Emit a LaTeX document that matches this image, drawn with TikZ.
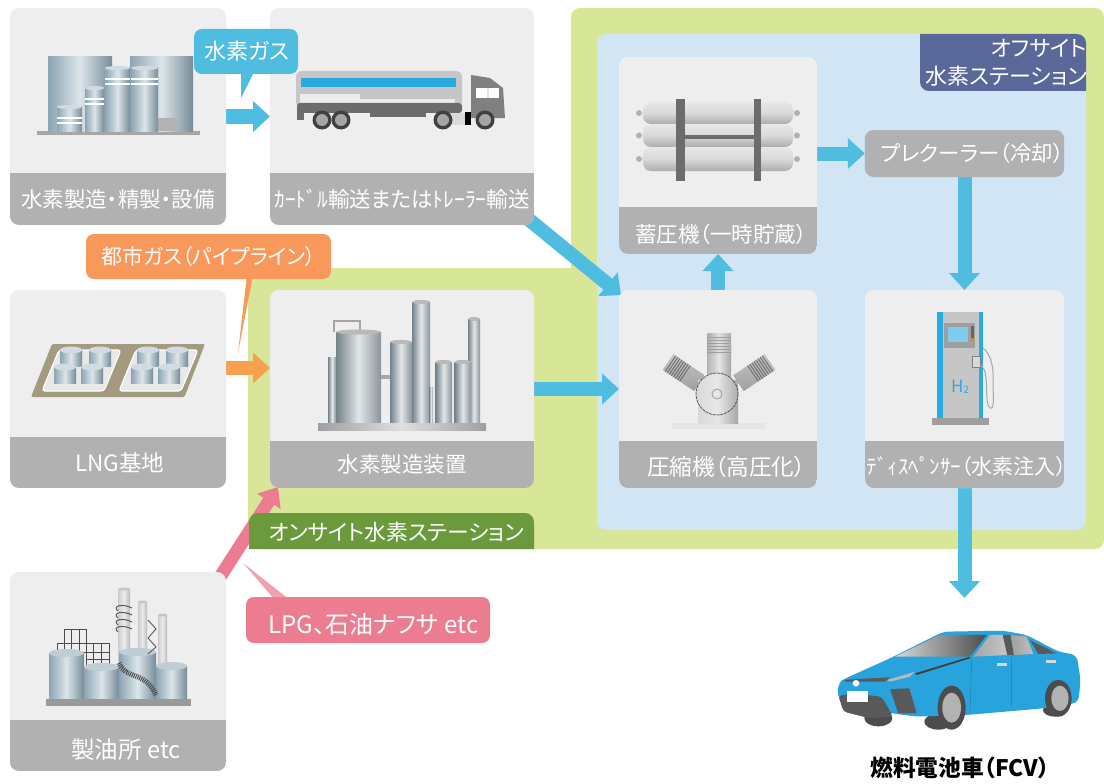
\documentclass[tikz,border=0pt]{standalone}
\usepackage{fontspec}
\setmainfont{Noto Sans CJK JP}[RawFeature=+palt]
\usetikzlibrary{arrows.meta,shapes.geometric}
\definecolor{cardbg}{HTML}{EEEEEE}
\definecolor{bandc}{HTML}{B2B1B2}
\definecolor{arrblue}{HTML}{4FBDE0}
\definecolor{arrorange}{HTML}{F8A04E}
\definecolor{calorange}{HTML}{F8985A}
\definecolor{arrpink}{HTML}{EC7C90}
\definecolor{tailpink}{HTML}{F2A0AE}
\definecolor{ongreen}{HTML}{D8E698}
\definecolor{panelblue}{HTML}{D2E5F4}
\definecolor{darkgreen}{HTML}{6A9A3C}
\definecolor{offblue}{HTML}{5A6899}
\definecolor{stripe}{HTML}{29ABE2}
\definecolor{carblue}{HTML}{29A3DC}
\definecolor{steelD}{HTML}{8BA5B4}
\definecolor{steelL}{HTML}{DCE5E9}
\definecolor{grayD}{HTML}{74828A}
\definecolor{grayL}{HTML}{E2E6E8}
\definecolor{lngbrown}{HTML}{A39A80}
\pgfdeclarelayer{backpanel}
\pgfdeclarelayer{conn}
\pgfsetlayers{backpanel,conn,main}
\tikzset{
 cardstyle/.style={fill=cardbg,rounded corners=9pt,inner sep=0pt,outer sep=0pt},
 lbl/.style={text=white,font=\fontsize{21.5}{26}\selectfont,inner sep=0pt},
 callout/.style={rounded corners=8pt,inner sep=0pt,outer sep=0pt,text=white,font=\fontsize{22}{26}\selectfont},
 flow/.style={line width=14pt,-{Triangle[width=30pt,length=17pt]}},
 steel/.style={left color=steelD,right color=steelD!85!black,middle color=steelL},
 metal/.style={left color=grayD,right color=grayD!85,middle color=grayL},
}
\newcommand{\cardbox}[8][]{%
 \pgfmathsetlengthmacro\cw{#5-#3}\pgfmathsetlengthmacro\ch{#6-#4}%
 \node[cardstyle,minimum width=\cw,minimum height=\ch] (#2) at ({(#3+#5)/2},{(#4+#6)/2}) {};
 \begin{scope}
  \clip[rounded corners=9pt] (#3,#4) rectangle (#5,#6);
  \fill[bandc] (#3,#7) rectangle (#5,#6);
 \end{scope}
 \node[lbl,#1] (#2-label) at ({(#3+#5)/2},{(#7+#6)/2}) {#8};
}
\begin{document}
\begin{tikzpicture}[x=1pt,y=-1pt]
\useasboundingbox (0,0) rectangle (1104,784);
\begin{pgfonlayer}{backpanel}
 \fill[white] (0,0) rectangle (1104,784);
 \fill[ongreen,rounded corners=9pt] (248,549) -- (248,268) [sharp corners] -- (571,268) [rounded corners=9pt] -- (571,8) -- (1104,8) -- (1104,549) -- cycle;
 \fill[panelblue,rounded corners=9pt] (597,34) rectangle (1086,530);
\end{pgfonlayer}

% ---- cards
\cardbox{prod}{10}{8}{226}{225}{173}{水素製造・精製・設備}
\cardbox{truck}{270}{8}{534}{225}{173}{ｶｰﾄﾞﾙ輸送またはﾄﾚｰﾗｰ輸送}
\cardbox[xshift=2pt,font=\fontsize{22.5}{26}\selectfont]{lng}{10}{290}{226}{488}{437}{LNG基地}
\cardbox{gen}{270}{290}{534}{488}{441}{水素製造装置}
\cardbox[xshift=3pt,yshift=-4pt]{accu}{619}{57}{817}{254}{207}{蓄圧機（一時貯蔵）}
\cardbox[xshift=8.5pt,yshift=-2pt,font=\fontsize{22.7}{26}\selectfont]{comp}{619}{290}{817}{488}{441}{圧縮機（高圧化）}
\cardbox[xshift=2pt,yshift=-2pt,font=\fontsize{21}{26}\selectfont]{disp}{865}{290}{1064}{488}{441}{ﾃﾞｨｽﾍﾟﾝｻｰ（水素注入）}
\cardbox[xshift=8pt,yshift=-4pt,font=\fontsize{23.5}{26}\selectfont]{refi}{10}{572}{226}{771}{720}{製油所 etc}
\node[fill=bandc,rounded corners=9pt,inner sep=0pt,outer sep=0pt,minimum width=199pt,minimum height=47pt,text=white,font=\fontsize{21.5}{26}\selectfont] (pre) at (964.5,153.5) {\hspace*{16pt}プレクーラー（冷却）};

% ---- station labels
\fill[offblue,rounded corners=9pt] (920,34) [sharp corners] -- (920,70) [rounded corners=9pt] -- (920,91) [sharp corners] -- (1086,91) -- (1086,50) [rounded corners=9pt] -- (1086,34) [sharp corners] -- cycle;
\node[text=white,font=\fontsize{22}{28}\selectfont,align=right,anchor=east,inner sep=0pt] (offlabel) at (1087,63) {オフサイト\\水素ステーション};
\fill[darkgreen,rounded corners=9pt] (249,549) [sharp corners] -- (249,530) [rounded corners=9pt] -- (249,513) -- (534,513) [sharp corners] -- (534,549) -- cycle;
\node[text=white,font=\fontsize{21.8}{26}\selectfont,inner sep=0pt] (onlabel) at (396.5,532) {オンサイト水素ステーション};

% ---- callouts
\coordinate (tipgas) at (241,98);
\coordinate (tipcity) at (238,353);
\coordinate (tiplpg) at (243,563);
\fill[arrblue] (241,70) -- (255,70) -- (tipgas) -- cycle;
\fill[calorange] (247,275) -- (253,275) -- (tipcity) -- cycle;
\fill[tailpink] (275,600) -- (290,600) -- (tiplpg) -- cycle;
\node[callout,fill=arrblue,minimum width=104pt,minimum height=45pt] (cgas) at (246,51.5) {\hspace*{2pt}水素ガス};
\node[callout,fill=calorange,minimum width=245pt,minimum height=45pt,font=\fontsize{21}{26}\selectfont] (ccity) at (208.5,256.5) {都市ガス（パイプライン）};
\node[callout,fill=arrpink,minimum width=244pt,minimum height=46pt] (clpg) at (368,620) {};
\node[text=white,inner sep=0pt,font=\fontsize{24}{26}\selectfont] (clpg-text) at (373.5,624) {LPG、石油ナフサ etc};

% ---- connectors
\begin{pgfonlayer}{conn}
 \draw[flow,arrblue] (prod.east) -- (truck.west);
 \draw[flow,arrblue] ([xshift=-7pt,yshift=7pt]truck.south east) -- ([xshift=2pt,yshift=-5pt]comp.north west);
 \draw[flow,arrorange] ([yshift=21pt]lng.east) -- ([yshift=21pt]gen.west);
 \draw[flow,arrpink,line width=13pt,-{Triangle[width=27pt,length=17pt]}] ([xshift=-6pt,yshift=-5pt]refi.north east) -- ([xshift=8pt,yshift=1pt]gen.south west);
 \draw[flow,arrblue] (gen.east) -- (comp.west);
 \draw[flow,arrblue] (comp.north) -- (accu.south);
 \draw[flow,arrblue] (accu.east |- pre.west) -- (pre.west);
 \draw[flow,arrblue] (pre.south) -- (disp.north);
 \coordinate (carin) at (964.5,598);
 \draw[flow,arrblue] (disp.south) -- (carin);
\end{pgfonlayer}

% ---- storage tanks
\fill[gray!70] (37,131) rectangle (200,135);
\shade[steel] (48,57) rectangle (112,131);
\shade[steel] (130,57) rectangle (193,131);
\fill[gray!60] (158,118) rectangle (178,131);
\foreach \a/\b/\t in {57/82/107,85/104/88,105/130/68,131/158/68}{
 \shade[steel] (\a,\t) rectangle (\b,131);
 \fill[white!60!steelD] ({(\a+\b)/2},\t) ellipse ({(\b-\a)/2} and 2);
 \fill[white] (\a,\t+10) rectangle (\b,\t+12);
 \fill[white] (\a,\t+15) rectangle (\b,\t+17);
}

% ---- truck
\fill[gray!45,rounded corners=6pt] (296,71) rectangle (462,108);
\fill[stripe] (301,78) rectangle (456,87);
\fill[gray!15] (300,94) rectangle (360,103);
\fill[gray!15] (360,99) rectangle (455,103);
\fill[gray!85!black,rounded corners=3pt] (297,103) rectangle (462,113);
\fill[gray!85!black] (297,110) rectangle (304,120);
\fill[gray!85!black] (370,108) rectangle (426,117);
\fill[gray] (471,75) -- (490,78) -- (503,88) -- (505,118) -- (471,118) -- cycle;
\fill[white] (476,88) rectangle (499,98);
\fill[gray!20] (487,88) rectangle (489,98);
\fill[black] (465,112) rectangle (471,125);
\fill[gray!30] (443,113) rectangle (465,125);
\foreach \c in {322,341,443,485}{
 \fill[black!75] (\c,120) circle (9.5);
 \fill[gray!70] (\c,120) circle (6);
}

% ---- LNG base
\fill[lngbrown,rounded corners=1.5pt] (31,397) -- (52,344) -- (205,344) -- (184.5,397) -- cycle;
\foreach \dx in {0,77}{
 \fill[gray!18,draw=white,line width=1.2pt,rounded corners=3pt] (42+\dx,391) -- (59+\dx,350) -- (121+\dx,350) -- (104+\dx,391) -- cycle;
 \foreach \p/\q in {71/350,100/350,65/367,92/367}{
  \shade[steel] (\p-11+\dx,\q) rectangle (\p+11+\dx,\q+16);
  \fill[white!60!steelD] (\p+\dx,\q) ellipse (11 and 3.5);
 }
}

% ---- hydrogen generator
\draw[gray!70,line width=2pt] (334,332) -- (334,321) -- (360,321) -- (360,332);
\shade[metal] (328,357) rectangle (336,423);
\shade[metal] (336,332) rectangle (381,423);
\fill[gray!55] (358.5,332) ellipse (22.5 and 2.5);
\fill[gray!70] (381,375) rectangle (390,379);
\shade[metal] (390,342) rectangle (412,423);
\fill[gray!55] (401,342) ellipse (11 and 2);
\shade[metal] (412,302) rectangle (430,423);
\fill[gray!55] (421,302) ellipse (9 and 2);
\shade[metal] (429,387) rectangle (433,423);
\shade[metal] (468,319) rectangle (480,423);
\fill[gray!55] (474,319) ellipse (6 and 2);
\shade[metal] (435.5,362) rectangle (452,423);
\fill[gray!55] (443.7,362) ellipse (8.2 and 2);
\shade[metal] (454.5,362) rectangle (471,423);
\fill[gray!55] (462.7,362) ellipse (8.2 and 2);
\shade[left color=gray!75,right color=gray!75,middle color=gray!25] (318,423) rectangle (486,430);

% ---- accumulator
\foreach \t/\b in {102/124,124/147,147/171}{
 \fill[gray!60] (639,{(\t+\b)/2}) circle (3);
 \fill[gray!60] (797,{(\t+\b)/2}) circle (3);
 \shade[top color=gray!18,bottom color=gray!65,middle color=gray!30,rounded corners=8pt] (643,\t) rectangle (793,\b);
}
\fill[gray!85!black] (685,135) rectangle (754,139);
\fill[gray!85!black] (676,99) rectangle (685,181);
\fill[gray!85!black] (754,99) rectangle (761,181);

% ---- compressor
\fill[gray!20] (672,423) rectangle (765,429);
\begin{scope}[shift={(668,362)},rotate=-34]
 \shade[top color=gray!45,bottom color=gray!75] (0,-9.5) rectangle (38,9.5);
 \foreach \i in {3,5.5,...,21}{\draw[gray!85!black,line width=.9pt] (\i,-9.5) -- (\i,9.5);}
\end{scope}
\begin{scope}[shift={(770,362)},rotate=34]
 \shade[top color=gray!45,bottom color=gray!75] (-38,-9.5) rectangle (0,9.5);
 \foreach \i in {-3,-5.5,...,-21}{\draw[gray!85!black,line width=.9pt] (\i,-9.5) -- (\i,9.5);}
\end{scope}
\shade[left color=gray!60,right color=gray!70,middle color=gray!20] (707,345) rectangle (731,385);
\shade[left color=gray!65,right color=gray!65,middle color=gray!25] (707,333) rectangle (731,354);
\foreach \y in {337,340,343,346,349,352}{\draw[gray!75,line width=.5pt] (707,\y) -- (731,\y);}
\shade[left color=gray!30,right color=gray!70,middle color=gray!20] (698,380) rectangle (738,423);
\shade[left color=gray!30,right color=gray!65,middle color=gray!18,draw=black!65,dash pattern=on 3pt off .8pt,line width=.8pt] (717,394) circle (21);
\draw[gray!70,line width=1pt] (717,394) circle (5);

% ---- dispenser
\fill[gray!75] (932,418) rectangle (989,425);
\fill[gray!45] (937,312) rectangle (983,418);
\fill[stripe] (937,312) rectangle (943,418);
\fill[stripe] (979,312) rectangle (983,418);
\fill[gray!75] (944,323) rectangle (975,348);
\fill[stripe!60!white] (948,327) rectangle (968,342);
\fill[black!60] (971,326) rectangle (974,338);
\fill[orange] (971,338) rectangle (974,341);
\fill[gray!30,draw=gray,line width=.5pt] (972,356) rectangle (980,367);
\draw[gray!70,line width=1pt] (983,348) .. controls (992,355) and (994,370) .. (993,385) .. controls (993,395) and (995,410) .. (990,408) .. controls (985,405) and (988,385) .. (985,372) .. controls (984,368) and (982,367) .. (980,365);
\node[text=stripe,font=\fontsize{17}{20}\selectfont,inner sep=0pt] (htwo) at (960,387) {H\raisebox{-1pt}{\fontsize{10}{12}\selectfont 2}};

% ---- refinery
\foreach \a/\b/\t in {118/130/589,138/147/602,158/167/615}{
 \shade[left color=gray!40,right color=gray!55,middle color=gray!15] (\a,\t) rectangle (\b,667);
 \fill[gray!45] ({(\a+\b)/2},\t) ellipse ({(\b-\a)/2} and 1.5);
}
\draw[black!70,line width=1pt] (64,629) rectangle (86,652) (71,629) -- (71,652) (79,629) -- (79,652);
\draw[black!70,line width=1pt] (57,643) rectangle (109,652) (86,643) -- (86,666) (109,652) -- (109,666) (86,666) -- (109,666) (86,652) -- (109,652) (93,643) -- (93,666) (101,643) -- (101,666) (86,659) -- (109,659);
\foreach \a/\b/\t in {49/84/653,84/119/667,119/156/652,156/187/666}{
 \shade[steel] (\a,\t) rectangle (\b,699);
 \fill[white!45!steelD] ({(\a+\b)/2},\t) ellipse ({(\b-\a)/2} and 4);
}
\draw[black!65,line width=1pt] (118,611) .. controls (112,606) and (122,603) .. (132,608) (118,618) .. controls (112,613) and (122,610) .. (132,615) (118,625) .. controls (112,620) and (122,617) .. (132,622) (118,632) .. controls (112,627) and (122,624) .. (132,629);
\draw[black!65,line width=.9pt] (148,620) -- (156,629) -- (148,638) -- (156,647) -- (148,654);
\draw[black!70,line width=5pt,dash pattern=on 1pt off 1pt] (119,663) .. controls (125,680) and (145,670) .. (156,695);

\fill[gray!80] (46,699) rectangle (191,706);

% ---- car
\begin{scope}[shift={(810,580)},x=.3333pt,y=-.3333pt]
 \fill[black!70] (205,415) ellipse (42 and 24);
 \fill[black!70] (385,425) ellipse (42 and 24);
 \fill[black!70] (735,390) ellipse (36 and 20);
 \fill[carblue,rounded corners=6pt] (400,155) -- (580,152) -- (650,165) -- (745,215) -- (800,225) -- (812,300) -- (805,368) -- (700,385) -- (470,405) -- (320,410) -- (100,380) -- (82,345) -- (85,310) -- (100,298) -- (240,235) -- cycle;
 \fill[black!65,rounded corners=4pt] (85,345) -- (170,345) -- (215,350) -- (250,410) -- (180,415) -- (100,395) -- cycle;
 \shade[left color=gray!30,right color=black!70] (255,230) -- (390,165) -- (530,165) -- (480,230) -- cycle;
 \shade[left color=gray!70,right color=gray!45] (490,230) -- (540,165) -- (580,165) -- (592,225) -- cycle;
 \fill[black!65] (578,165) -- (602,165) -- (612,225) -- (592,225) -- cycle;
 \shade[left color=gray!75,right color=gray!50] (602,165) -- (650,170) -- (670,222) -- (612,225) -- cycle;
 \fill[black!65] (660,180) -- (740,220) -- (685,222) -- cycle;
 \fill[white] (112,333) rectangle (175,367);
 \fill[black!65] (100,300) -- (180,295) -- (240,292) -- (225,305) -- (110,305) -- cycle;
 \fill[gray!55] (232,300) -- (315,275) -- (300,290) -- (240,305) -- cycle;
 \fill[black!75] (315,280) -- (480,230) -- (480,235) -- (320,285) -- cycle;
 \fill[white] (138,310) circle (10);
 \fill[black!65] (240,328) -- (298,325) -- (320,400) -- (265,400) -- cycle;
 \fill[gray!30] (560,250) rectangle (592,258);
 \fill[gray!30] (708,240) rectangle (738,248);
 \draw[carblue!80!black,line width=.5pt] (485,235) -- (480,400) (605,230) -- (605,380);
 \fill[black!70] (425,383) ellipse (42 and 66);
 \fill[gray!60] (425,383) ellipse (28 and 45);
 \fill[black!70] (745,355) ellipse (40 and 55);
 \fill[gray!60] (750,355) ellipse (26 and 38);
\end{scope}
\node[text=black,font=\fontsize{22.7}{27}\selectfont\bfseries,inner sep=0pt] (carlabel) at (960,768) {燃料電池車（FCV）};
\end{tikzpicture}
\end{document}
